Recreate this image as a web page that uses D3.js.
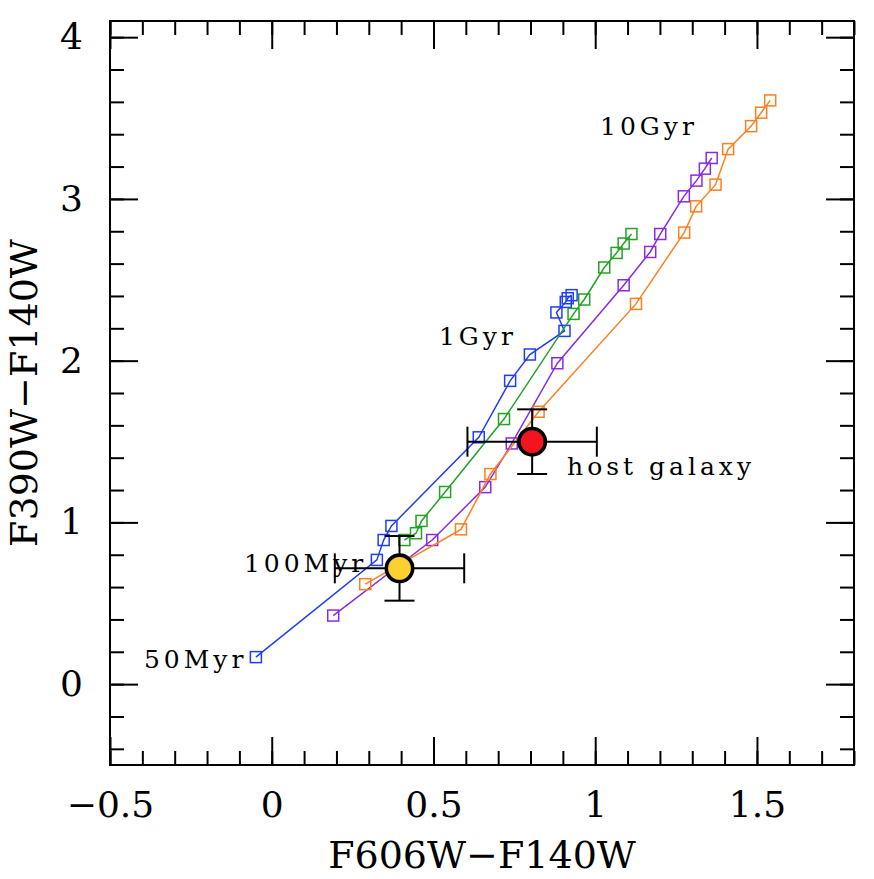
<!DOCTYPE html>
<html>
<head>
<meta charset="utf-8">
<script src="https://cdn.jsdelivr.net/npm/d3@7"></script>
<style>
  body { margin: 0; background: #fff; }
  text { font-family: "DejaVu Serif", serif; fill: #000; }
</style>
</head>
<body>
<div id="chart"></div>
<script>
// model tracks (F606W-F140W, F390W-F140W)
var blueX = [-0.049, 0.325, 0.346, 0.370, 0.640, 0.737, 0.798, 0.905, 0.880, 0.909, 0.915, 0.927];
var blueY = [0.167, 0.768, 0.891, 0.978, 1.526, 1.875, 2.038, 2.184, 2.298, 2.363, 2.386, 2.405];

var greenX = [0.410, 0.446, 0.463, 0.536, 0.718, 0.933, 0.966, 1.028, 1.066, 1.088, 1.112];
var greenY = [0.891, 0.933, 1.009, 1.188, 1.639, 2.289, 2.378, 2.576, 2.666, 2.724, 2.783];

var purpleX = [0.190, 0.496, 0.660, 0.742, 0.883, 1.088, 1.170, 1.201, 1.274, 1.313, 1.339, 1.360];
var purpleY = [0.424, 0.891, 1.218, 1.488, 1.984, 2.466, 2.672, 2.783, 3.016, 3.113, 3.187, 3.253];

var orangeX = [0.289, 0.585, 0.676, 0.825, 1.126, 1.275, 1.312, 1.372, 1.411, 1.482, 1.513, 1.541];
var orangeY = [0.618, 0.957, 1.299, 1.684, 2.351, 2.792, 2.954, 3.088, 3.308, 3.450, 3.533, 3.609];

// measured points with errors
var obsX = [0.395, 0.805];
var obsY = [0.716, 1.499];
var obsErrX = [0.2, 0.2];
var obsErrY = [0.2, 0.2];

var labelText = ["50Myr", "100Myr", "1Gyr", "10Gyr", "host galaxy"];
var labelX = [-0.395, -0.086, 0.517, 1.015, 0.913];
var labelY = [0.10, 0.695, 2.096, 3.393, 1.293];

var xMajor = [-0.5, 0, 0.5, 1, 1.5];
var yMajor = [0, 1, 2, 3, 4];

var series = [
    { x: blueX, y: blueY, color: "#1f3dff" },
    { x: greenX, y: greenY, color: "#22a322" },
    { x: purpleX, y: purpleY, color: "#8a2be2" },
    { x: orangeX, y: orangeY, color: "#ff7f1e" }
];
var obsFill = ["#fcd02f", "#f2141e"];

var margin = { top: 21, right: 20, bottom: 114, left: 110 },
    width = 874 - margin.left - margin.right,
    height = 879 - margin.top - margin.bottom;

var svg = d3.select("#chart")
    .append("svg")
    .attr("width", 874)
    .attr("height", 879)
    .append("g")
    .attr("transform", "translate(" + margin.left + "," + margin.top + ")");

var x = d3.scaleLinear().domain([-0.5, 1.8]).range([0, width]);
var y = d3.scaleLinear().domain([-0.5, 4.1]).range([height, 0]);

var xMinor = d3.range(-5, 19).map(function (d) { return d / 10; });
var yMinor = d3.range(-2, 21).map(function (d) { return d / 5; });

var fmt = function (d) { return d3.format("")(d).replace("-", "\u2212"); };

function styleAxis(g) {
    g.select(".domain").remove();
    g.selectAll("line").attr("stroke", "#000").attr("stroke-width", 2);
    g.selectAll("text").style("font-size", "36px").style("font-family", "DejaVu Serif");
}

// minor ticks on all sides
svg.append("g").attr("transform", "translate(0," + height + ")")
    .call(d3.axisBottom(x).tickValues(xMinor).tickSize(-14).tickFormat("")).call(styleAxis);
svg.append("g")
    .call(d3.axisTop(x).tickValues(xMinor).tickSize(-14).tickFormat("")).call(styleAxis);
svg.append("g")
    .call(d3.axisLeft(y).tickValues(yMinor).tickSize(-14).tickFormat("")).call(styleAxis);
svg.append("g").attr("transform", "translate(" + width + ",0)")
    .call(d3.axisRight(y).tickValues(yMinor).tickSize(-14).tickFormat("")).call(styleAxis);

// major ticks
svg.append("g").attr("transform", "translate(0," + height + ")")
    .call(d3.axisBottom(x).tickValues(xMajor).tickSize(-28).tickPadding(26).tickFormat(fmt))
    .call(styleAxis);
svg.append("g")
    .call(d3.axisTop(x).tickValues(xMajor).tickSize(-28).tickFormat("")).call(styleAxis);
svg.append("g")
    .call(d3.axisLeft(y).tickValues(yMajor).tickSize(-28).tickPadding(27).tickFormat(fmt)).call(styleAxis);
svg.append("g").attr("transform", "translate(" + width + ",0)")
    .call(d3.axisRight(y).tickValues(yMajor).tickSize(-28).tickFormat("")).call(styleAxis);

svg.append("rect")
    .attr("width", width)
    .attr("height", height)
    .attr("fill", "none")
    .attr("stroke", "#000")
    .attr("stroke-width", 2);

// tracks
var line = d3.line().x(function (d) { return x(d[0]); }).y(function (d) { return y(d[1]); });
var sq = 11;

series.forEach(function (s) {
    var pts = d3.zip(s.x, s.y);
    svg.append("path")
        .datum(pts)
        .attr("d", line)
        .attr("fill", "none")
        .attr("stroke", s.color)
        .attr("stroke-width", 1.5);
    svg.selectAll(null)
        .data(pts)
        .enter()
        .append("rect")
        .attr("x", function (d) { return x(d[0]) - sq / 2; })
        .attr("y", function (d) { return y(d[1]) - sq / 2; })
        .attr("width", sq)
        .attr("height", sq)
        .attr("fill", "none")
        .attr("stroke", s.color)
        .attr("stroke-width", 1.5);
});

// observed points with error bars
var obs = d3.range(obsX.length).map(function (i) {
    return { x: obsX[i], y: obsY[i], ex: obsErrX[i], ey: obsErrY[i], fill: obsFill[i] };
});
var cap = 15;
var eb = svg.selectAll(".eb").data(obs).enter().append("g")
    .attr("stroke", "#000").attr("stroke-width", 2);
eb.append("line")
    .attr("x1", function (d) { return x(d.x - d.ex); }).attr("x2", function (d) { return x(d.x + d.ex); })
    .attr("y1", function (d) { return y(d.y); }).attr("y2", function (d) { return y(d.y); });
eb.append("line")
    .attr("x1", function (d) { return x(d.x); }).attr("x2", function (d) { return x(d.x); })
    .attr("y1", function (d) { return y(d.y - d.ey); }).attr("y2", function (d) { return y(d.y + d.ey); });
[-1, 1].forEach(function (s) {
    eb.append("line")
        .attr("x1", function (d) { return x(d.x + s * d.ex); }).attr("x2", function (d) { return x(d.x + s * d.ex); })
        .attr("y1", function (d) { return y(d.y) - cap; }).attr("y2", function (d) { return y(d.y) + cap; });
    eb.append("line")
        .attr("x1", function (d) { return x(d.x) - cap; }).attr("x2", function (d) { return x(d.x) + cap; })
        .attr("y1", function (d) { return y(d.y + s * d.ey); }).attr("y2", function (d) { return y(d.y + s * d.ey); });
});
eb.append("circle")
    .attr("cx", function (d) { return x(d.x); })
    .attr("cy", function (d) { return y(d.y); })
    .attr("r", 13.2)
    .attr("fill", function (d) { return d.fill; })
    .attr("stroke-width", 3.6);

// annotations
svg.selectAll(".lab")
    .data(d3.range(labelText.length))
    .enter()
    .append("text")
    .attr("x", function (i) { return x(labelX[i]); })
    .attr("y", function (i) { return y(labelY[i]); })
    .style("font-size", "25px")
    .style("letter-spacing", "4px")
    .text(function (i) { return labelText[i]; });

// axis titles
svg.append("text")
    .attr("x", width / 2)
    .attr("y", 868 - margin.top)
    .attr("text-anchor", "middle")
    .style("font-size", "38px")
    .text("F606W\u2212F140W");

svg.append("text")
    .attr("transform", "translate(" + (37 - margin.left) + "," + (height / 2) + ")rotate(-90)")
    .attr("text-anchor", "middle")
    .style("font-size", "38px")
    .text("F390W\u2212F140W");
</script>
</body>
</html>
